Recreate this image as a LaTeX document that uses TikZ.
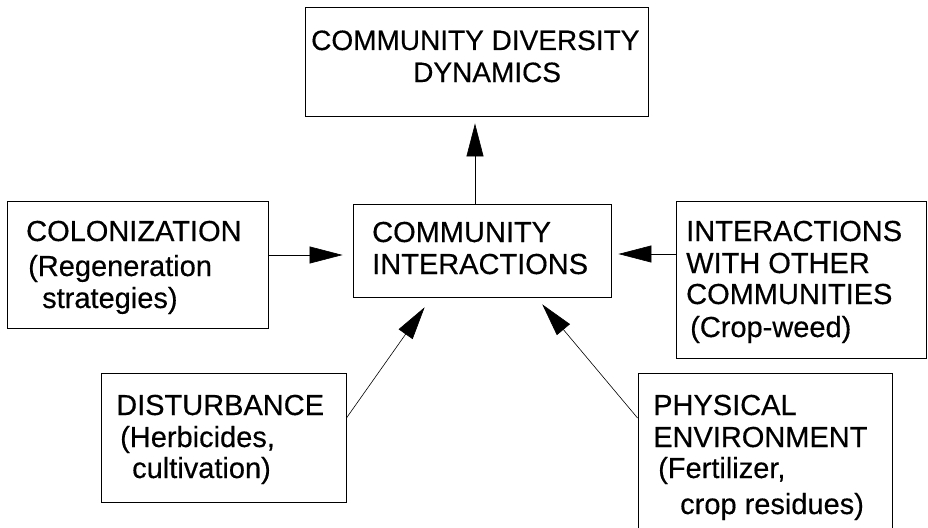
\documentclass[tikz,border=0pt]{standalone}
\usepackage{fontspec}
\setmainfont{Liberation Sans}[FakeBold=0.4]
\usetikzlibrary{arrows.meta}
\begin{document}
\begin{tikzpicture}[x=1pt,y=-1pt,
  box/.style={draw, line width=0.9pt, rectangle, inner sep=0pt},
  txt/.style={anchor=base west, inner sep=0pt, font=\fontsize{29}{32}\selectfont},
  arr/.style={line width=0.6pt, -{Triangle[length=33pt,width=17pt]}}]
\useasboundingbox[fill=white] (0,0) rectangle (928,527);
% boxes
\node[box, minimum width=343pt, minimum height=109pt] (top) at (476.5,61.5) {};
\node[box, minimum width=261pt, minimum height=127pt] (col) at (137.5,264.5) {};
\node[box, minimum width=258pt, minimum height=93pt] (ctr) at (482,250.5) {};
\node[box, minimum width=250pt, minimum height=157pt] (int) at (801,279.5) {};
\node[box, minimum width=245pt, minimum height=129pt] (dis) at (223.5,437.5) {};
\node[box, minimum width=254pt, minimum height=167pt] (phy) at (765,456.5) {};
% texts
\node[txt, font=\fontsize{28}{32}\selectfont] (top1) at (311,50) {COMMUNITY DIVERSITY};
\node[txt, font=\fontsize{28}{32}\selectfont] (top2) at (413,82) {DYNAMICS};
\node[txt] (col1) at (26,241) {COLONIZATION};
\node[txt] (col2) at (28,276) {(Regeneration};
\node[txt] (col3) at (42,308) {strategies)};
\node[txt] (ctr1) at (372,242) {COMMUNITY};
\node[txt] (ctr2) at (372,274) {INTERACTIONS};
\node[txt] (int1) at (686,241) {INTERACTIONS};
\node[txt] (int2) at (686,273) {WITH OTHER};
\node[txt] (int3) at (686,304) {COMMUNITIES};
\node[txt] (int4) at (690,337) {(Crop-weed)};
\node[txt] (dis1) at (116,415) {DISTURBANCE};
\node[txt] (dis2) at (120,447) {(Herbicides,};
\node[txt] (dis3) at (132,478) {cultivation)};
\node[txt] (phy1) at (653,415) {PHYSICAL};
\node[txt] (phy2) at (653,447) {ENVIRONMENT};
\node[txt] (phy3) at (658,478) {(Fertilizer,};
\node[txt] (phy4) at (680,514) {crop residues)};
% connectors
\draw[arr, shorten >=7pt] ([xshift=-7pt]ctr.north) -- ([xshift=-7pt]ctr.north |- top.south);
\draw[arr, shorten >=10pt] (col.east |- 0,255) -- (ctr.west |- 0,255);
\draw[arr, shorten >=7pt] (int.west |- 0,254) -- (ctr.east |- 0,254);
\draw[arr, shorten >=12pt] (dis.east |- 0,418) -- ([xshift=79pt]ctr.south west);
\draw[arr, shorten >=9pt] (phy.west |- 0,418) -- ([xshift=-75pt]ctr.south east);
\end{tikzpicture}
\end{document}
